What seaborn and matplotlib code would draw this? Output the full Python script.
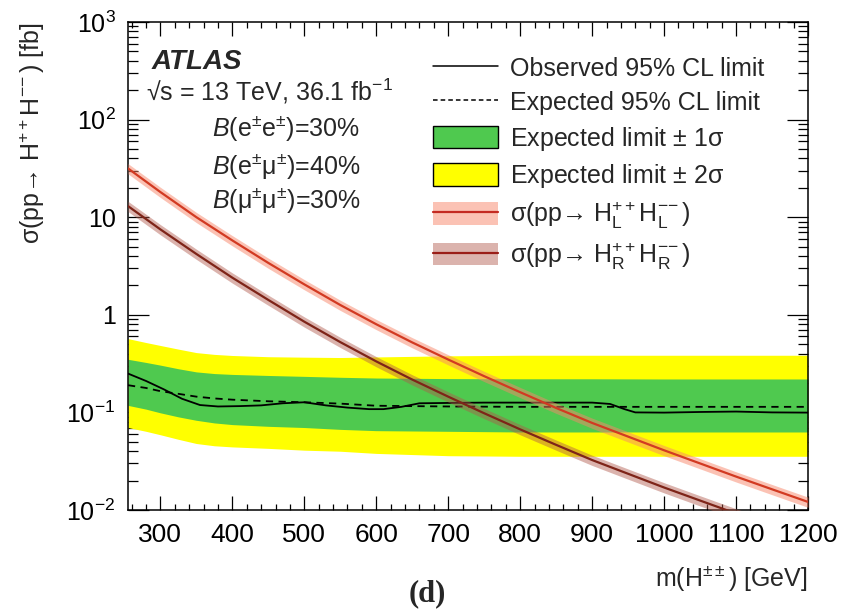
import matplotlib
matplotlib.use("Agg")
import matplotlib.pyplot as plt
import seaborn as sns
import numpy as np
import pandas as pd
from matplotlib.lines import Line2D
from matplotlib.patches import Patch
from matplotlib.legend_handler import HandlerTuple
from matplotlib.ticker import MultipleLocator, NullFormatter, LogLocator

# ---------------- data ----------------
m_sig = [255, 300, 350, 400, 450, 500, 550, 600, 650, 700, 750, 800, 850, 900,
         950, 1000, 1050, 1100, 1150, 1200]
xsec_L = [31.6, 18.1, 10.0, 5.78, 3.40, 2.05, 1.26, 0.80, 0.521, 0.348, 0.235,
          0.161, 0.111, 0.078, 0.0565, 0.0409, 0.0300, 0.0220, 0.0163, 0.0121]
unc_L = [0.12, 0.12, 0.12, 0.12, 0.12, 0.12, 0.12, 0.12, 0.12, 0.12, 0.12,
         0.12, 0.12, 0.12, 0.12, 0.12, 0.12, 0.12, 0.12, 0.12]
xsec_R = [13.0, 7.5, 4.2, 2.40, 1.42, 0.85, 0.525, 0.333, 0.217, 0.145, 0.098,
          0.067, 0.0465, 0.0325, 0.0235, 0.0170, 0.0125, 0.0092, 0.0068, 0.0050]
unc_R = [0.12, 0.12, 0.12, 0.12, 0.12, 0.12, 0.12, 0.12, 0.12, 0.12, 0.12,
         0.12, 0.12, 0.12, 0.12, 0.12, 0.12, 0.12, 0.12, 0.12]

m_band = [255, 280, 300, 325, 350, 375, 400, 450, 500, 550, 600, 700, 800, 900,
          1000, 1100, 1200]
expected = [0.19, 0.178, 0.165, 0.155, 0.145, 0.139, 0.135, 0.130, 0.127, 0.123,
            0.117, 0.115, 0.114, 0.114, 0.114, 0.114, 0.114]
green_hi = [0.35, 0.325, 0.305, 0.28, 0.26, 0.25, 0.245, 0.239, 0.234, 0.229,
            0.225, 0.222, 0.221, 0.221, 0.22, 0.22, 0.22]
green_lo = [0.118, 0.108, 0.099, 0.09, 0.083, 0.078, 0.075, 0.072, 0.070, 0.067,
            0.065, 0.064, 0.063, 0.063, 0.063, 0.063, 0.063]
yellow_hi = [0.57, 0.52, 0.485, 0.445, 0.41, 0.393, 0.383, 0.372, 0.368, 0.365,
             0.37, 0.38, 0.385, 0.385, 0.385, 0.385, 0.385]
yellow_lo = [0.070, 0.064, 0.059, 0.053, 0.048, 0.0455, 0.0443, 0.0428, 0.041,
             0.040, 0.038, 0.036, 0.0355, 0.0355, 0.0355, 0.0355, 0.0355]

m_obs = [255, 280, 305, 330, 355, 380, 410, 440, 470, 500, 530, 560, 590, 610,
         635, 660, 700, 750, 800, 850, 900, 925, 945, 960, 1000, 1050, 1100,
         1150, 1200]
observed = [0.25, 0.21, 0.172, 0.138, 0.119, 0.115, 0.116, 0.118, 0.124, 0.127,
            0.118, 0.112, 0.108, 0.108, 0.114, 0.124, 0.125, 0.126, 0.126, 0.126,
            0.126, 0.122, 0.108, 0.100, 0.0995, 0.101, 0.102, 0.100, 0.0995]

ytick_vals = [1e-2, 1e-1, 1, 10, 1e2, 1e3]
ytick_labels = [r"10$^{-2}$", r"10$^{-1}$", "1", "10", r"10$^{2}$", r"10$^{3}$"]
xtick_vals = [300, 400, 500, 600, 700, 800, 900, 1000, 1100, 1200]

# ---------------- style ----------------
sns.set_theme(style="ticks")
plt.rcParams["font.family"] = ["Liberation Sans", "DejaVu Sans"]
plt.rcParams["mathtext.fontset"] = "custom"
plt.rcParams["mathtext.rm"] = "Liberation Sans"
plt.rcParams["mathtext.it"] = "Liberation Sans:italic"
plt.rcParams["mathtext.bf"] = "Liberation Sans:bold"
plt.rcParams["axes.linewidth"] = 1.1

FS = 18
c_yellow = "#ffff00"
c_green = "#4fc94f"
c_Lline = "#d23a22"
c_Lband = "#f8876a"
c_Rline = "#7e2418"
c_Rband = "#b0584a"
ARROW = "→"

fig = plt.figure(figsize=(8.48, 6.15), dpi=100)
ax = fig.add_axes([128 / 848, 105 / 615, 680 / 848, 488 / 615])

df_band = pd.DataFrame({"m": m_band, "exp": expected, "g_hi": green_hi,
                        "g_lo": green_lo, "y_hi": yellow_hi, "y_lo": yellow_lo})
df_sig = pd.DataFrame({"m": m_sig, "L": xsec_L, "R": xsec_R,
                       "uL": unc_L, "uR": unc_R})
df_obs = pd.DataFrame({"m": m_obs, "obs": observed})

ax.fill_between(df_band["m"], df_band["y_lo"], df_band["y_hi"],
                color=c_yellow, lw=0, zorder=1)
ax.fill_between(df_band["m"], df_band["g_lo"], df_band["g_hi"],
                color=c_green, lw=0, zorder=2)
sns.lineplot(data=df_band, x="m", y="exp", ax=ax, color="black", lw=1.3,
             linestyle=(0, (4, 3)), zorder=3)
sns.lineplot(data=df_obs, x="m", y="obs", ax=ax, color="black", lw=1.3, zorder=4)

ax.fill_between(df_sig["m"], df_sig["L"] * (1 - df_sig["uL"]),
                df_sig["L"] * (1 + df_sig["uL"]), color=c_Lband, alpha=0.5,
                lw=0, zorder=5)
sns.lineplot(data=df_sig, x="m", y="L", ax=ax, color=c_Lline, lw=1.6, zorder=6)
ax.fill_between(df_sig["m"], df_sig["R"] * (1 - df_sig["uR"]),
                df_sig["R"] * (1 + df_sig["uR"]), color=c_Rband, alpha=0.45,
                lw=0, zorder=5)
sns.lineplot(data=df_sig, x="m", y="R", ax=ax, color=c_Rline, lw=1.6, zorder=6)

ax.set_yscale("log")
ax.set_xlim(255, 1200)
ax.set_ylim(1e-2, 1e3)

ax.set_yticks(ytick_vals)
ax.set_yticklabels(ytick_labels)
ax.yaxis.set_minor_locator(LogLocator(base=10, subs=np.arange(2, 10)))
ax.yaxis.set_minor_formatter(NullFormatter())
ax.set_xticks(xtick_vals)
ax.set_xticklabels([str(v) for v in xtick_vals])
ax.xaxis.set_minor_locator(MultipleLocator(20))

ax.tick_params(axis="both", which="both", direction="in", top=True, right=True,
               colors="black", width=0.9)
ax.tick_params(axis="y", which="major", length=15, labelsize=FS, pad=9)
ax.tick_params(axis="y", which="minor", length=7.5)
ax.tick_params(axis="x", which="major", length=10, labelsize=19, pad=9)
ax.tick_params(axis="x", which="minor", length=4.5)
for s in ax.spines.values():
    s.set_color("black")

ax.set_xlabel(r"m(H$^{\pm\pm}$) [GeV]", fontsize=FS, loc="right", labelpad=12)
ax.set_ylabel("σ(pp" + ARROW + r" H$^{++}$H$^{-\!-}$) [fb]", fontsize=FS,
              loc="top", labelpad=14)

ax.text(0.035, 0.918, "ATLAS", transform=ax.transAxes, fontsize=20,
        fontweight="bold", fontstyle="italic", va="center", ha="left")
ax.text(0.027, 0.857, r"√s = 13 TeV, 36.1 fb$^{-1}$", transform=ax.transAxes,
        fontsize=FS, va="center", ha="left")
ax.text(0.1235, 0.783, r"$\mathit{B}$(e$^{\pm}$e$^{\pm}$)=30%",
        transform=ax.transAxes, fontsize=FS, va="center", ha="left")
ax.text(0.1235, 0.705, r"$\mathit{B}$(e$^{\pm}$μ$^{\pm}$)=40%",
        transform=ax.transAxes, fontsize=FS, va="center", ha="left")
ax.text(0.1235, 0.635, r"$\mathit{B}$(μ$^{\pm}$μ$^{\pm}$)=30%",
        transform=ax.transAxes, fontsize=FS, va="center", ha="left")

h_obs = Line2D([], [], color="black", lw=1.1)
h_exp = Line2D([], [], color="black", lw=1.1, linestyle=(0, (3, 2)))
h_g = Patch(facecolor=c_green, edgecolor="black", lw=1.0)
h_y = Patch(facecolor=c_yellow, edgecolor="black", lw=1.0)
h_L = (Patch(facecolor=c_Lband, alpha=0.5, lw=0), Line2D([], [], color="#c42a22", lw=1.6))
h_R = (Patch(facecolor=c_Rband, alpha=0.45, lw=0), Line2D([], [], color="#9a1e18", lw=1.6))
labels = ["Observed 95% CL limit", "Expected 95% CL limit",
          r"Expected limit $\pm$ 1σ", r"Expected limit $\pm$ 2σ",
          "σ(pp" + ARROW + r" H$_{\mathrm{L}}^{++}$H$_{\mathrm{L}}^{-\!-}$)",
          "σ(pp" + ARROW + r" H$_{\mathrm{R}}^{++}$H$_{\mathrm{R}}^{-\!-}$)"]
leg = ax.legend([h_obs, h_exp, h_g, h_y, h_L, h_R], labels,
                handler_map={tuple: HandlerTuple(ndivide=1)},
                loc="upper left", bbox_to_anchor=(0.4485, 0.93),
                frameon=False, fontsize=FS, handlelength=2.6, handleheight=1.0,
                handletextpad=0.5, labelspacing=0.38, borderpad=0,
                borderaxespad=0)

fig.text(427 / 848, 1 - 594 / 615, "(d)", fontsize=22, fontweight="bold",
         family="Liberation Serif", ha="center", va="center")

fig.savefig("out.png", dpi=100)
